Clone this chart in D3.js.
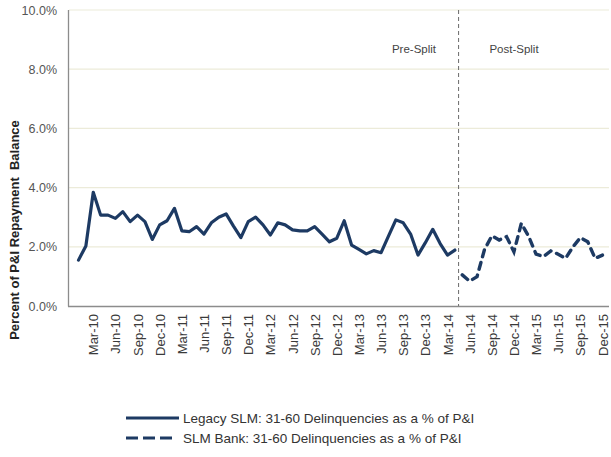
<!DOCTYPE html>
<html>
<head>
<meta charset="utf-8">
<script src="https://cdn.jsdelivr.net/npm/d3@7"></script>
<style>
	body { margin: 0; background: #fff; }
	svg { display: block; font-family: "Liberation Sans", Arial, sans-serif; }
</style>
</head>
<body>
<div id="widget"></div>
<script>
// Legacy SLM, Jan-10 .. Apr-14 (% of P&I)
var legacyValues = [1.55, 2.03, 3.84, 3.07, 3.07, 2.96, 3.19, 2.85, 3.07, 2.85,
	2.25, 2.74, 2.88, 3.30, 2.54, 2.51, 2.68, 2.43, 2.81, 3.00,
	3.11, 2.70, 2.31, 2.85, 3.00, 2.74, 2.40, 2.81, 2.74, 2.57,
	2.54, 2.54, 2.68, 2.43, 2.17, 2.29, 2.88, 2.06, 1.91, 1.76,
	1.87, 1.80, 2.36, 2.91, 2.81, 2.43, 1.72, 2.14, 2.59, 2.11,
	1.72, 1.89];
// SLM Bank, May-14 .. Dec-15
var bankValues = [1.05, 0.84, 0.99, 1.90, 2.37, 2.23, 2.34, 1.83, 2.79, 2.35,
	1.75, 1.67, 1.86, 1.75, 1.61, 2.00, 2.31, 2.17, 1.61, 1.72];

var tickLabels = ["Mar-10", "Jun-10", "Sep-10", "Dec-10", "Mar-11", "Jun-11", "Sep-11", "Dec-11",
	"Mar-12", "Jun-12", "Sep-12", "Dec-12", "Mar-13", "Jun-13", "Sep-13", "Dec-13",
	"Mar-14", "Jun-14", "Sep-14", "Dec-14", "Mar-15", "Jun-15", "Sep-15", "Dec-15"];
var yTicks = [0, 2, 4, 6, 8, 10];
var legendLabels = ["Legacy SLM: 31-60 Delinquencies as a % of P&I",
	"SLM Bank: 31-60 Delinquencies as a % of P&I"];

var lineColour = "#1d3a63";

var svg = d3.select("#widget")
	.append("svg")
	.attr("width", 611)
	.attr("height", 457);

var x = d3.scaleLinear().domain([0, 71]).range([78.5, 602.5]);
var y = d3.scaleLinear().domain([0, 10]).range([306, 10]);

// gridlines
svg.selectAll("line.grid")
	.data(yTicks.slice(1))
	.enter()
	.append("line")
	.attr("class", "grid")
	.attr("x1", 69).attr("x2", 609)
	.attr("y1", function(d) { return y(d); })
	.attr("y2", function(d) { return y(d); })
	.style("stroke", "#ecebd9")
	.style("stroke-width", 1.2);

// axis lines
svg.append("line")
	.attr("x1", 68.5).attr("x2", 68.5)
	.attr("y1", y(10)).attr("y2", y(0) + 0.5)
	.style("stroke", "#8c8c8c").style("stroke-width", 1.3);
svg.append("line")
	.attr("x1", 68).attr("x2", 609)
	.attr("y1", y(0) + 0.5).attr("y2", y(0) + 0.5)
	.style("stroke", "#8c8c8c").style("stroke-width", 1.3);

// y axis labels
var yAxis = svg.append("g")
	.attr("transform", "translate(68,0)")
	.call(d3.axisLeft(y).tickValues(yTicks).tickSize(0).tickPadding(11)
		.tickFormat(function(d) { return d.toFixed(1) + "%"; }));
yAxis.select(".domain").remove();
yAxis.selectAll("text")
	.attr("font-family", "Liberation Sans, Arial, sans-serif")
	.attr("font-size", "12.5px")
	.style("fill", "#555");

// x axis labels
var xAxis = svg.append("g")
	.attr("transform", "translate(0," + y(0) + ")")
	.call(d3.axisBottom(x).tickValues(d3.range(2, 72, 3)).tickSize(0)
		.tickFormat(function(d, i) { return tickLabels[i]; }));
xAxis.select(".domain").remove();
xAxis.selectAll("text")
	.attr("transform", "rotate(-90)")
	.attr("x", -8)
	.attr("y", 0)
	.attr("dy", "0.35em")
	.attr("font-family", "Liberation Sans, Arial, sans-serif")
	.attr("font-size", "13px")
	.style("text-anchor", "end")
	.style("fill", "#3a3a3a");

// y axis title
svg.append("text")
	.attr("transform", "translate(19,230) rotate(-90)")
	.attr("font-size", "13px")
	.attr("font-weight", "bold")
	.style("text-anchor", "middle")
	.style("fill", "#222")
	.text("Percent of P&I Repayment\u00a0\u00a0Balance");

// split divider
var splitX = x(51.5);
svg.append("line")
	.attr("x1", splitX).attr("x2", splitX)
	.attr("y1", y(10)).attr("y2", y(0))
	.style("stroke", "#6b6b6b")
	.style("stroke-width", 1)
	.style("stroke-dasharray", "4,3");

svg.append("text")
	.attr("x", 414).attr("y", 53)
	.attr("font-size", "11.5px")
	.style("text-anchor", "middle")
	.style("fill", "#444")
	.text("Pre-Split");
svg.append("text")
	.attr("x", 514).attr("y", 53)
	.attr("font-size", "11.5px")
	.style("text-anchor", "middle")
	.style("fill", "#444")
	.text("Post-Split");

var line = d3.line()
	.x(function(d) { return x(d.i); })
	.y(function(d) { return y(d.v); });

var legacy = legacyValues.map(function(v, i) { return { i: i, v: v }; });
var bank = bankValues.map(function(v, i) { return { i: i + legacyValues.length, v: v }; });

svg.append("path")
	.datum(legacy)
	.attr("d", line)
	.style("fill", "none")
	.style("stroke", lineColour)
	.style("stroke-width", 3.2)
	.style("stroke-linejoin", "round")
	.style("stroke-linecap", "round");

svg.append("path")
	.datum(bank)
	.attr("d", line)
	.style("fill", "none")
	.style("stroke", lineColour)
	.style("stroke-width", 3.4)
	.style("stroke-dasharray", "7,6")
	.style("stroke-linecap", "round");

// legend
var legend = svg.selectAll("g.legend")
	.data(legendLabels)
	.enter()
	.append("g")
	.attr("class", "legend")
	.attr("transform", function(d, i) { return "translate(125," + (418 + i * 20) + ")"; });

legend.append("line")
	.attr("x1", 1)
	.attr("x2", function(d, i) { return i == 0 ? 54 : 47; })
	.attr("y1", 0).attr("y2", 0)
	.style("stroke", lineColour)
	.style("stroke-width", 3.2)
	.style("stroke-dasharray", function(d, i) { return i == 0 ? null : "12,5"; });

legend.append("text")
	.attr("x", 58)
	.attr("y", 0)
	.attr("dy", "0.35em")
	.attr("font-size", "13.5px")
	.style("fill", "#333")
	.text(function(d) { return d; });
</script>
</body>
</html>
